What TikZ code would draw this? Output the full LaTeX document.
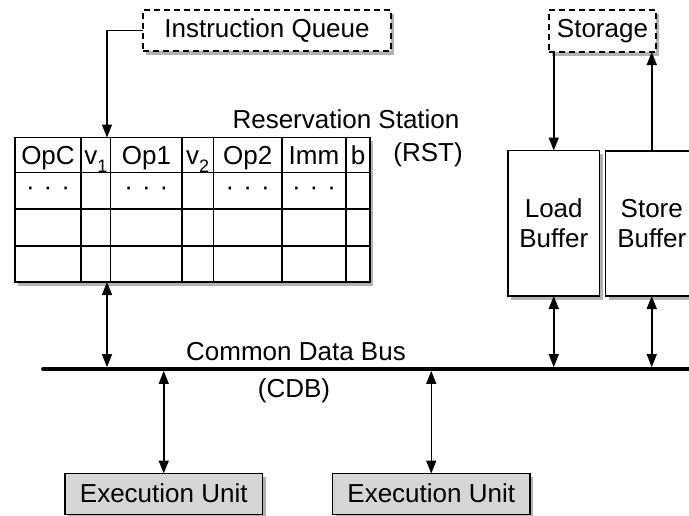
\documentclass[tikz,border=0pt]{standalone}
\usepackage{fontspec}
\setmainfont{Liberation Sans}
\usetikzlibrary{arrows.meta,shadows}
\newcommand{\subnum}[1]{\raisebox{-0.3em}{\fontsize{18}{18}\selectfont #1}}
\newcommand{\threedots}{·\hspace{9pt}·\hspace{9pt}·}
\begin{document}
\begin{tikzpicture}[x=1pt,y=-1pt,
  every node/.style={font=\fontsize{26}{29.5}\selectfont, inner sep=0pt, outer sep=0pt},
  shadowed/.style={drop shadow={shadow xshift=3pt, shadow yshift=-3.5pt, opacity=0.3, fill=black}},
  solidbox/.style={draw, line width=1.3pt, fill=white, shadowed},
  dashbox/.style={draw, line width=1.1pt, dash pattern=on 6pt off 4pt, fill=white, shadowed},
  unitbox/.style={draw, line width=1.3pt, fill=black!16, shadowed},
  gridline/.style={line width=1.1pt},
  arr/.style={line width=1.5pt, -{Triangle[length=13pt,width=10pt]}},
  biarr/.style={line width=1.5pt, {Triangle[length=13pt,width=10pt]}-{Triangle[length=13pt,width=10pt]}},
  busline/.style={line width=3.8pt}]
\useasboundingbox (0,0) rectangle (689,515);
\clip (0,0) rectangle (689,515);

% boxes
\node[dashbox, minimum width=248pt, minimum height=41pt] (iq) at (267,30.5) {Instruction Queue};
\node[dashbox, minimum width=107pt, minimum height=42pt] (storage) at (602.5,31) {Storage};
\node[solidbox, minimum width=355pt, minimum height=144.5pt] (rst) at (192.5,209.75) {};
\node[solidbox, minimum width=91.5pt, minimum height=145.5pt, align=center] (load) at (553.75,223.25) {Load\\Buffer};
\node[solidbox, minimum width=92.5pt, minimum height=145pt, align=center] (store) at (651.75,223.5) {Store\\Buffer};
\node[unitbox, minimum width=197.5pt, minimum height=41pt] (eu1) at (163.75,494) {};
\node[unitbox, minimum width=197.5pt, minimum height=41pt] (eu2) at (431.25,494) {};
\node[anchor=base] (eu1t) at (163.75,502) {Execution Unit};
\node[anchor=base] (eu2t) at (431.25,502) {Execution Unit};

% table grid
\foreach \cx in {81,110.7,182,213.3,282,346}
  \draw[gridline] (\cx,137.5) -- (\cx,282);
\foreach \ry in {172.7,209,246}
  \draw[gridline] (15,\ry) -- (370,\ry);
\draw[line width=1.3pt] (rst.north west) rectangle (rst.south east);

% table header
\node[anchor=base] (hopc) at (48,164.5) {OpC};
\node[anchor=base] (hv1) at (95.8,164.5) {v\subnum{1}};
\node[anchor=base] (hop1) at (146.4,164.5) {Op1};
\node[anchor=base] (hv2) at (197.7,164.5) {v\subnum{2}};
\node[anchor=base] (hop2) at (247.7,164.5) {Op2};
\node[anchor=base] (himm) at (314,164.5) {Imm};
\node[anchor=base] (hb) at (358,164.5) {b};
% dots row
\node (d1) at (48,191) {\threedots};
\node (d2) at (146.4,191) {\threedots};
\node (d3) at (247.7,191) {\threedots};
\node (d4) at (314,191) {\threedots};

% labels
\node[anchor=base] (rstlabel) at (346,128) {Reservation Station};
\node[anchor=base] (rstabbr) at (428,161) {(RST)};
\node[anchor=base] (cdblabel) at (296,360) {Common Data Bus};
\node[anchor=base] (cdbabbr) at (294,397) {(CDB)};

% bus
\coordinate (busL) at (43,369);
\coordinate (busR) at (700,369);
\draw[busline, line cap=round] (busL) -- (busR);

% connectors
\coordinate (rstin) at ([xshift=92pt]rst.north west);
\coordinate (rstout) at ([xshift=92pt]rst.south west);
\draw[arr] (iq.west) -| (rstin);
\draw[biarr, shorten >=1.9pt] (rstout) -- (rstout |- busL);
\draw[biarr, shorten <=1.9pt] (eu1.north |- busL) -- (eu1.north);
\draw[biarr, shorten <=1.9pt] (eu2.north |- busL) -- (eu2.north);
\draw[biarr, shorten >=1.9pt] (load.south) -- (load.south |- busL);
\draw[biarr, shorten >=1.9pt] (store.south) -- (store.south |- busL);
\draw[arr] (storage.south -| load.north) -- (load.north);
\draw[arr] (store.north) -- (store.north |- storage.south);
\end{tikzpicture}
\end{document}
